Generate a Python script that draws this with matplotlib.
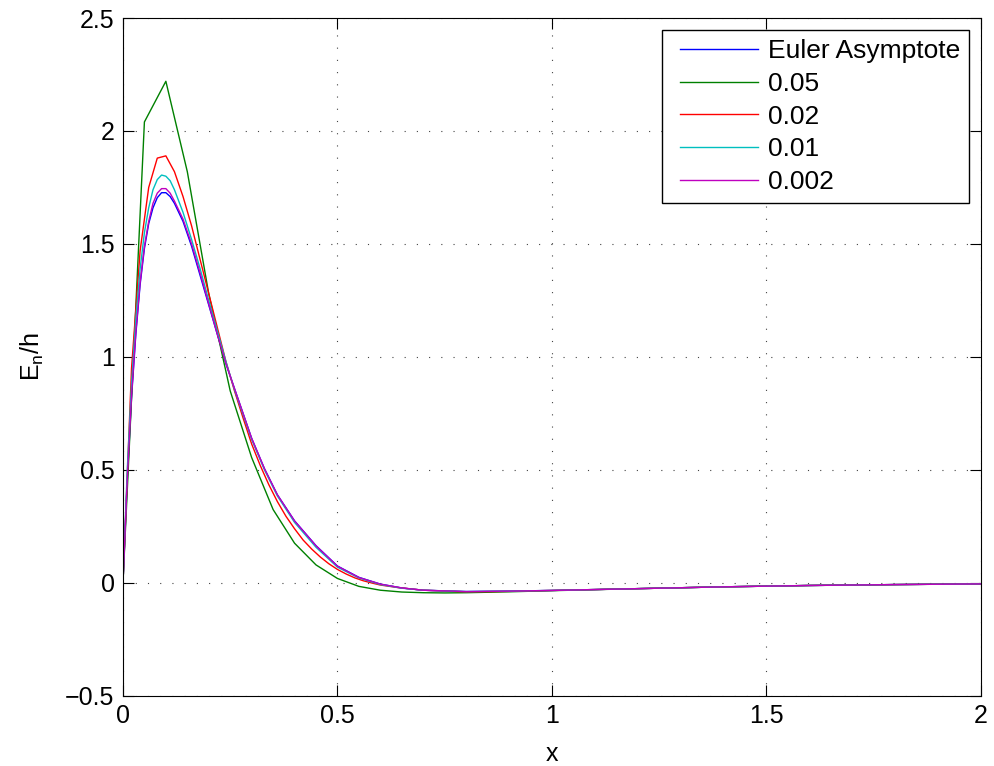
import matplotlib
matplotlib.use("Agg")
import matplotlib.pyplot as plt
from matplotlib.lines import Line2D
from matplotlib.legend_handler import HandlerLine2D

plt.rcParams['font.family'] = ['Liberation Sans', 'DejaVu Sans']
plt.rcParams['mathtext.fontset'] = 'custom'
plt.rcParams['mathtext.rm'] = 'Liberation Sans'
plt.rcParams['mathtext.it'] = 'Liberation Sans'

# ---------- DATA ----------
x_fine = [0, 0.01, 0.02, 0.03, 0.04, 0.05, 0.06, 0.07, 0.08, 0.09, 0.10, 0.11,
          0.12, 0.14, 0.16, 0.18, 0.20, 0.22, 0.24, 0.26, 0.28, 0.30, 0.33,
          0.36, 0.40, 0.45, 0.50, 0.55, 0.60, 0.65, 0.70, 0.80, 0.90, 1.0,
          1.2, 1.4, 1.6, 1.8, 2.0]

euler = [0, 0.45, 0.82, 1.10, 1.32, 1.48, 1.59, 1.66, 1.705, 1.727, 1.727, 1.71,
         1.68, 1.60, 1.49, 1.36, 1.23, 1.10, 0.97, 0.86, 0.75, 0.64, 0.505,
         0.39, 0.275, 0.165, 0.075, 0.025, -0.005, -0.022, -0.032, -0.038, -0.036, -0.033,
         -0.025, -0.017, -0.011, -0.007, -0.004]

h001 = [0, 0.50, 0.88, 1.17, 1.39, 1.55, 1.66, 1.74, 1.785, 1.805, 1.80, 1.78,
        1.74, 1.64, 1.52, 1.39, 1.25, 1.115, 0.98, 0.855, 0.745, 0.635, 0.50,
        0.385, 0.268, 0.158, 0.07, 0.022, -0.007, -0.023, -0.032, -0.038, -0.036, -0.033,
        -0.025, -0.017, -0.011, -0.007, -0.004]

h0002 = [0, 0.46, 0.83, 1.11, 1.33, 1.49, 1.60, 1.68, 1.725, 1.745, 1.745, 1.725,
         1.69, 1.61, 1.50, 1.37, 1.235, 1.10, 0.972, 0.86, 0.75, 0.64, 0.505,
         0.39, 0.274, 0.164, 0.074, 0.024, -0.005, -0.022, -0.032, -0.038, -0.036, -0.033,
         -0.025, -0.017, -0.011, -0.007, -0.004]

x_h002 = [0, 0.02, 0.04, 0.06, 0.08, 0.10, 0.12, 0.14, 0.16, 0.18, 0.20, 0.22,
          0.24, 0.26, 0.28, 0.30, 0.32, 0.34, 0.36, 0.38, 0.40, 0.42, 0.44,
          0.46, 0.48, 0.50, 0.52, 0.54, 0.56, 0.58, 0.60, 0.64, 0.70, 0.80,
          0.90, 1.0, 1.2, 1.4, 1.6, 1.8, 2.0]
h002 = [0, 0.95, 1.47, 1.75, 1.88, 1.89, 1.82, 1.71, 1.58, 1.43, 1.28, 1.13,
        0.98, 0.85, 0.73, 0.615, 0.52, 0.435, 0.36, 0.295, 0.24, 0.19, 0.15,
        0.115, 0.085, 0.06, 0.04, 0.023, 0.01, 0.0, -0.009, -0.02, -0.032, -0.039,
        -0.037, -0.033, -0.025, -0.017, -0.011, -0.007, -0.004]

x_h005 = [0, 0.05, 0.10, 0.15, 0.20, 0.25, 0.30, 0.35, 0.40, 0.45, 0.50, 0.55,
          0.60, 0.65, 0.70, 0.75, 0.80, 0.90, 1.0, 1.2, 1.4, 1.6, 1.8, 2.0]
h005 = [0, 2.04, 2.22, 1.82, 1.28, 0.85, 0.555, 0.325, 0.176, 0.08, 0.02, -0.015,
        -0.032, -0.04, -0.043, -0.044, -0.043, -0.039, -0.034, -0.025, -0.017, -0.011, -0.007, -0.004]

labels = ["Euler Asymptote", "0.05", "0.02", "0.01", "0.002"]

# ---------- PLOT ----------
fig = plt.figure(figsize=(9.94, 7.66), dpi=100)
ax = fig.add_axes([0.1237, 0.0914, 0.8632, 0.8851])

lw = 1.0
ax.plot(x_fine, euler, color=(0, 0, 1), lw=lw, label=labels[0])
ax.plot(x_h005, h005, color=(0, 0.5, 0), lw=lw, label=labels[1])
ax.plot(x_h002, h002, color=(1, 0, 0), lw=lw, label=labels[2])
ax.plot(x_fine, h001, color=(0, 0.75, 0.75), lw=lw, label=labels[3])
ax.plot(x_fine, h0002, color=(0.75, 0, 0.75), lw=lw, label=labels[4])

ax.set_xlim(0, 2)
ax.set_ylim(-0.5, 2.5)
ax.set_xticks([0, 0.5, 1, 1.5, 2])
ax.set_xticklabels(["0", "0.5", "1", "1.5", "2"])
ax.set_yticks([-0.5, 0, 0.5, 1, 1.5, 2, 2.5])
ax.set_yticklabels(["\u22120.5", "0", "0.5", "1", "1.5", "2", "2.5"])

ax.tick_params(direction='in', length=8, width=0.8, top=True, right=True,
               labelsize=18, pad=6)
for s in ax.spines.values():
    s.set_linewidth(0.8)

ax.grid(True, color='#444444', linewidth=0.8, linestyle=(0, (1, 10)))

ax.set_xlabel("x", fontsize=18, labelpad=10)
ax.set_ylabel(r"E$_{\mathrm{n}}$/h", fontsize=18, labelpad=14)

# legend: handle pushed right a bit, like the MATLAB box
leg = ax.legend(loc='upper right', fontsize=19, fancybox=False, framealpha=1,
                edgecolor='black', handlelength=3.3, handletextpad=0.35,
                labelspacing=0.33, borderpad=0.35, borderaxespad=0.45,
                handler_map={Line2D: HandlerLine2D(xpad=0.33)})
leg.get_frame().set_linewidth(1.0)

fig.savefig("out.png", dpi=100)
